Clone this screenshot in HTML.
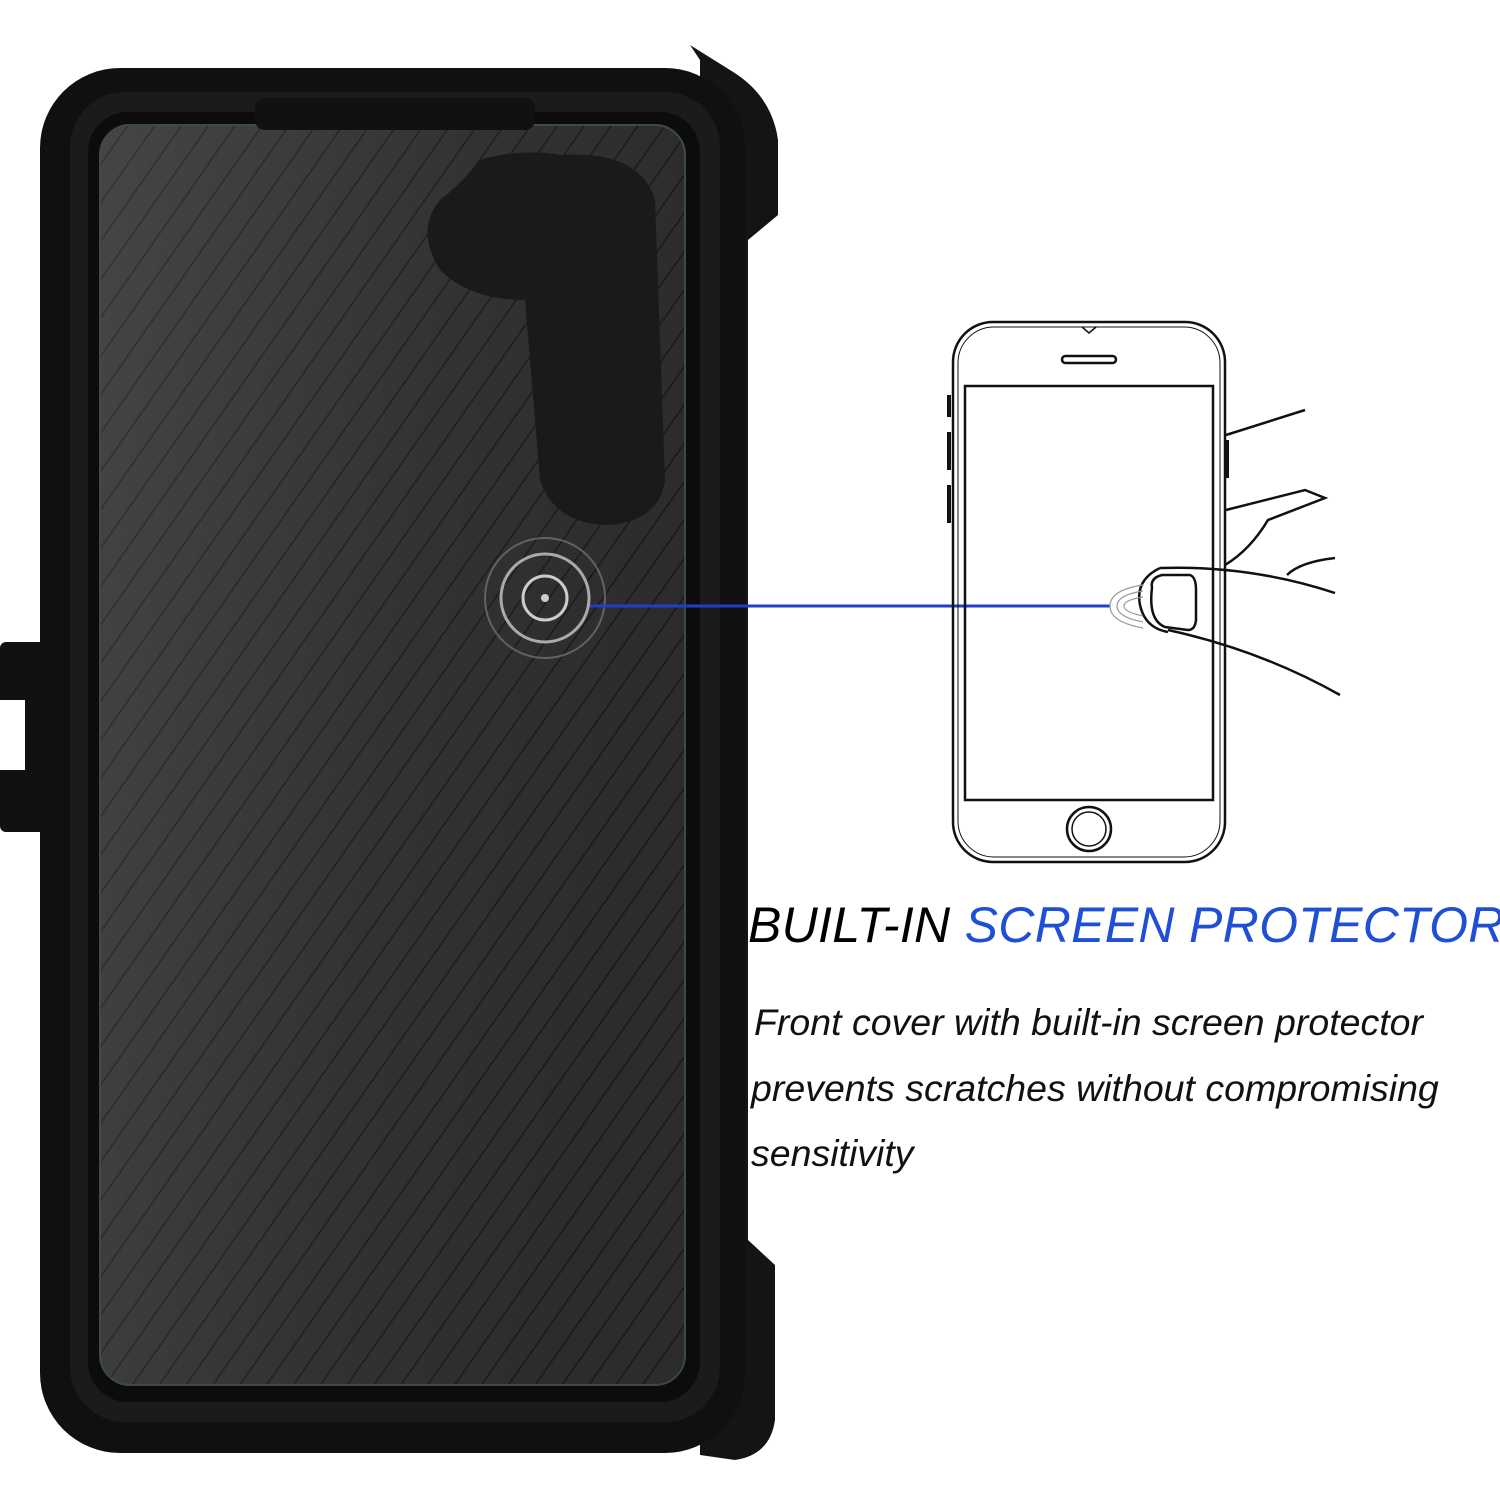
<!DOCTYPE html>
<html><head><style>
html,body{margin:0;padding:0;background:#fff;}
body{width:1500px;height:1500px;position:relative;overflow:hidden;font-family:"Liberation Sans",sans-serif;}
.t{position:absolute;font-style:italic;white-space:nowrap;}
</style></head><body>
<svg width="1500" height="1500" style="position:absolute;left:0;top:0">
<defs>
<pattern id="st" width="22" height="22" patternUnits="userSpaceOnUse" patternTransform="rotate(35)">
<rect width="22" height="22" fill="#2c2c2c"/>
<line x1="0" y1="0" x2="0" y2="22" stroke="#181818" stroke-width="3"/>
</pattern>
<linearGradient id="gl" x1="0" y1="0" x2="1" y2="0.3">
<stop offset="0" stop-color="#fff" stop-opacity="0.12"/>
<stop offset="0.6" stop-color="#fff" stop-opacity="0.03"/>
<stop offset="1" stop-color="#fff" stop-opacity="0"/>
</linearGradient>
</defs>
<rect x="0" y="642" width="50" height="190" rx="6" fill="#111"/>
<rect x="0" y="700" width="25" height="70" fill="#fff"/>
<path d="M690 45 L730 70 Q772 95 778 140 L778 215 L748 240 L748 1240 L775 1265 L775 1420 Q770 1455 735 1460 L700 1455 L700 60 Z" fill="#141414"/>
<rect x="40" y="68" width="705" height="1385" rx="80" fill="#101010"/>
<rect x="70" y="92" width="650" height="1330" rx="55" fill="#1b1b1b"/>
<rect x="88" y="112" width="612" height="1290" rx="40" fill="#0c0c0c"/>
<rect x="100" y="125" width="585" height="1260" rx="30" fill="url(#st)"/>
<rect x="100" y="125" width="585" height="1260" rx="30" fill="url(#gl)"/>
<rect x="100" y="125" width="585" height="1260" rx="30" fill="none" stroke="#3b4a50" stroke-width="2"/>
<rect x="255" y="98" width="280" height="32" rx="10" fill="#111"/>
<path d="M480 160 Q520 148 560 155 Q640 150 655 200 L665 480 Q660 520 610 525 Q555 525 540 480 L525 300 Q470 300 440 270 Q415 230 440 200 Q460 185 480 160 Z" fill="#1a1a1a"/>
<circle cx="545" cy="598" r="60" fill="none" stroke="#777" stroke-width="2" opacity="0.7"/>
<circle cx="545" cy="598" r="44" fill="none" stroke="#aaa" stroke-width="3"/>
<circle cx="545" cy="598" r="22" fill="none" stroke="#ccc" stroke-width="3"/>
<circle cx="545" cy="598" r="4" fill="#ccc"/>
<line x1="590" y1="606" x2="1110" y2="606" stroke="#1f3fc8" stroke-width="3"/>
<g fill="none" stroke="#111" stroke-width="2.5">
<rect x="953" y="322" width="272" height="540" rx="40"/>
<rect x="958" y="327" width="262" height="530" rx="36" stroke-width="1"/>
<rect x="965" y="386" width="248" height="414"/>
<circle cx="1089" cy="829" r="22"/>
<circle cx="1089" cy="829" r="17" stroke-width="1.5"/>
<rect x="1062" y="356" width="54" height="7" rx="3.5"/>
<path d="M1082 327 L1089 333 L1096 327" stroke-width="1.5"/>
<path d="M1226 435 L1305 410"/>
<path d="M1226 510 L1305 490 L1325 498 L1268 520 Q1250 550 1225 565"/>
<path d="M1287 575 Q1300 562 1335 558"/>
<path d="M1160 568 Q1250 565 1335 593"/>
<path d="M1168 630 Q1260 650 1340 695"/>
<path d="M1160 568 Q1135 580 1140 605 Q1145 628 1168 632"/>
<path d="M1152 588 Q1150 578 1162 575 L1190 575 Q1196 577 1196 590 L1196 620 Q1195 630 1188 630 L1165 627 Q1148 620 1152 588 Z"/>
</g>
<rect x="947" y="395" width="4" height="22" fill="#111"/>
<rect x="947" y="432" width="4" height="38" fill="#111"/>
<rect x="947" y="485" width="4" height="38" fill="#111"/>
<rect x="1225" y="440" width="4" height="38" fill="#111"/>
<g fill="none" stroke="#999" stroke-width="1.2">
<path d="M1143 585 Q1110 590 1110 606 Q1110 622 1143 628"/>
<path d="M1143 591 Q1117 595 1117 606 Q1117 617 1143 622"/>
<path d="M1143 597 Q1124 600 1124 606 Q1124 612 1143 616"/>
</g>
</svg>
<div class="t" style="left:748px;top:896px;font-size:50px;color:#000;letter-spacing:0.3px">BUILT-IN <span style="color:#1f4fd6">SCREEN PROTECTOR</span></div>
<div class="t" style="left:754px;top:1001px;font-size:37.5px;color:#111">Front cover with built-in screen protector</div>
<div class="t" style="left:751px;top:1067px;font-size:37.5px;color:#111">prevents scratches without compromising</div>
<div class="t" style="left:751px;top:1132px;font-size:37.5px;color:#111">sensitivity</div>
</body></html>
